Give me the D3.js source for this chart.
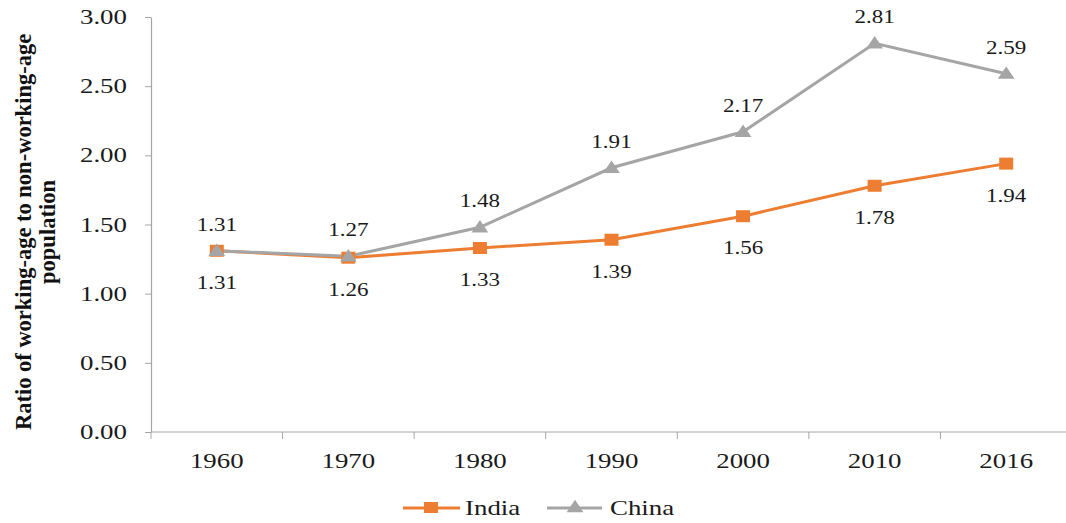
<!DOCTYPE html>
<html>
<head>
<meta charset="utf-8">
<script src="https://cdn.jsdelivr.net/npm/d3@7"></script>
<style>
  html, body { margin: 0; padding: 0; background: #fff; }
  svg { display: block; }
</style>
</head>
<body>
<svg id="chart" width="1066" height="523"></svg>
<script>
// Ratio of working-age to non-working-age population, India vs China
const years = ["1960", "1970", "1980", "1990", "2000", "2010", "2016"];
const india = [1.31, 1.26, 1.33, 1.39, 1.56, 1.78, 1.94];
const china = [1.31, 1.27, 1.48, 1.91, 2.17, 2.81, 2.59];
const yTicks = [0, 0.5, 1, 1.5, 2, 2.5, 3];

(function draw() {
  const svg = d3.select("#chart");
  const FONT = "Liberation Serif";
  const SX = 1.28; // horizontal widening of the chart's horizontal text
  const plotLeft = 151, plotRight = 1072, plotTop = 17, plotBottom = 432;

  const x = d3.scaleBand().domain(years).range([plotLeft, plotRight]);
  const y = d3.scaleLinear().domain([0, 3]).range([plotBottom, plotTop]);
  const cx = d => x(d) + x.bandwidth() / 2;

  const axisColor = "#a6a6a6";
  const textColor = "#1a1a1a";

  // widened text placed at (px, py)
  function wtext(sel, px, py) {
    return sel.attr("x", 0).attr("y", 0)
      .attr("transform", (d, i) => `translate(${typeof px === "function" ? px(d, i) : px},${typeof py === "function" ? py(d, i) : py}) scale(${SX},1)`)
      .style("font-family", FONT).attr("fill", textColor);
  }

  // Y axis
  const yAxis = svg.append("g").attr("transform", `translate(${plotLeft},0)`)
    .call(d3.axisLeft(y).tickValues(yTicks).tickFormat(d3.format(".2f")).tickSize(6).tickSizeOuter(0));
  yAxis.select(".domain").attr("stroke", axisColor).attr("stroke-width", 1.2);
  yAxis.selectAll(".tick line").attr("stroke", axisColor);
  yAxis.selectAll(".tick text").remove();
  svg.append("g").selectAll("text").data(yTicks).join("text")
    .call(wtext, plotLeft - 24, d => y(d) + 7)
    .attr("text-anchor", "end").attr("font-size", 21)
    .text(d => d.toFixed(2));

  // X axis with ticks between categories
  const xAxisG = svg.append("g").attr("transform", `translate(0,${plotBottom})`);
  xAxisG.append("line").attr("x1", plotLeft).attr("x2", plotRight)
    .attr("stroke", axisColor).attr("stroke-width", 1.2);
  const bounds = d3.range(years.length + 1).map(i => plotLeft + i * x.bandwidth());
  xAxisG.selectAll("line.tk").data(bounds).join("line").attr("class", "tk")
    .attr("x1", d => d).attr("x2", d => d).attr("y1", 0).attr("y2", 7).attr("stroke", axisColor);
  svg.append("g").selectAll("text").data(years).join("text")
    .call(wtext, d => cx(d), plotBottom + 36)
    .attr("text-anchor", "middle").attr("font-size", 21).text(d => d);

  // Axis title
  const title = svg.append("text")
    .attr("transform", "translate(25,232) rotate(-90)")
    .attr("text-anchor", "middle").attr("font-weight", "bold").attr("font-size", 22.5)
    .style("font-family", FONT).attr("fill", "#111");
  title.append("tspan").attr("x", 0).attr("dy", 6).text("Ratio of working-age to non-working-age");
  title.append("tspan").attr("x", 0).attr("dy", 24).text("population");

  const line = d3.line().x((d, i) => cx(years[i])).y(d => y(d));
  const orange = "#ed7d31", grey = "#a5a5a5";

  // India series
  svg.append("path").datum(india).attr("d", line).attr("fill", "none")
    .attr("stroke", orange).attr("stroke-width", 3);
  // China series
  svg.append("path").datum(china).attr("d", line).attr("fill", "none")
    .attr("stroke", grey).attr("stroke-width", 3);

  const sqW = 14, sqH = 12;
  svg.selectAll("rect.india").data(india).join("rect").attr("class", "india")
    .attr("x", (d, i) => cx(years[i]) - sqW / 2).attr("y", d => y(d) - sqH / 2)
    .attr("width", sqW).attr("height", sqH).attr("fill", orange);

  const tri = d3.symbol().type(d3.symbolTriangle).size(110);
  svg.selectAll("path.china").data(china).join("path").attr("class", "china")
    .attr("d", tri).attr("fill", grey)
    .attr("transform", (d, i) => `translate(${cx(years[i])},${y(d) + 1}) scale(1.05,0.9)`);

  // Value labels
  svg.append("g").selectAll("text").data(india).join("text")
    .call(wtext, (d, i) => cx(years[i]), d => y(d) + 38)
    .attr("text-anchor", "middle").attr("font-size", 18)
    .text(d => d.toFixed(2));
  svg.append("g").selectAll("text").data(china).join("text")
    .call(wtext, (d, i) => cx(years[i]), d => y(d) - 20)
    .attr("text-anchor", "middle").attr("font-size", 18)
    .text(d => d.toFixed(2));

  // Legend
  const lg = svg.append("g").attr("transform", "translate(0,508)");
  lg.append("line").attr("x1", 403).attr("x2", 460).attr("stroke", orange).attr("stroke-width", 3);
  lg.append("rect").attr("x", 424).attr("y", -6).attr("width", 14).attr("height", 11).attr("fill", orange);
  lg.append("text").datum("India").call(wtext, 465, 7).attr("font-size", 21).text(d => d);
  lg.append("line").attr("x1", 547).attr("x2", 602).attr("stroke", grey).attr("stroke-width", 3);
  lg.append("path").attr("d", tri).attr("fill", grey).attr("transform", "translate(575,0) scale(1.05,0.9)");
  lg.append("text").datum("China").call(wtext, 610, 7).attr("font-size", 21).text(d => d);
})();
</script>
</body>
</html>
